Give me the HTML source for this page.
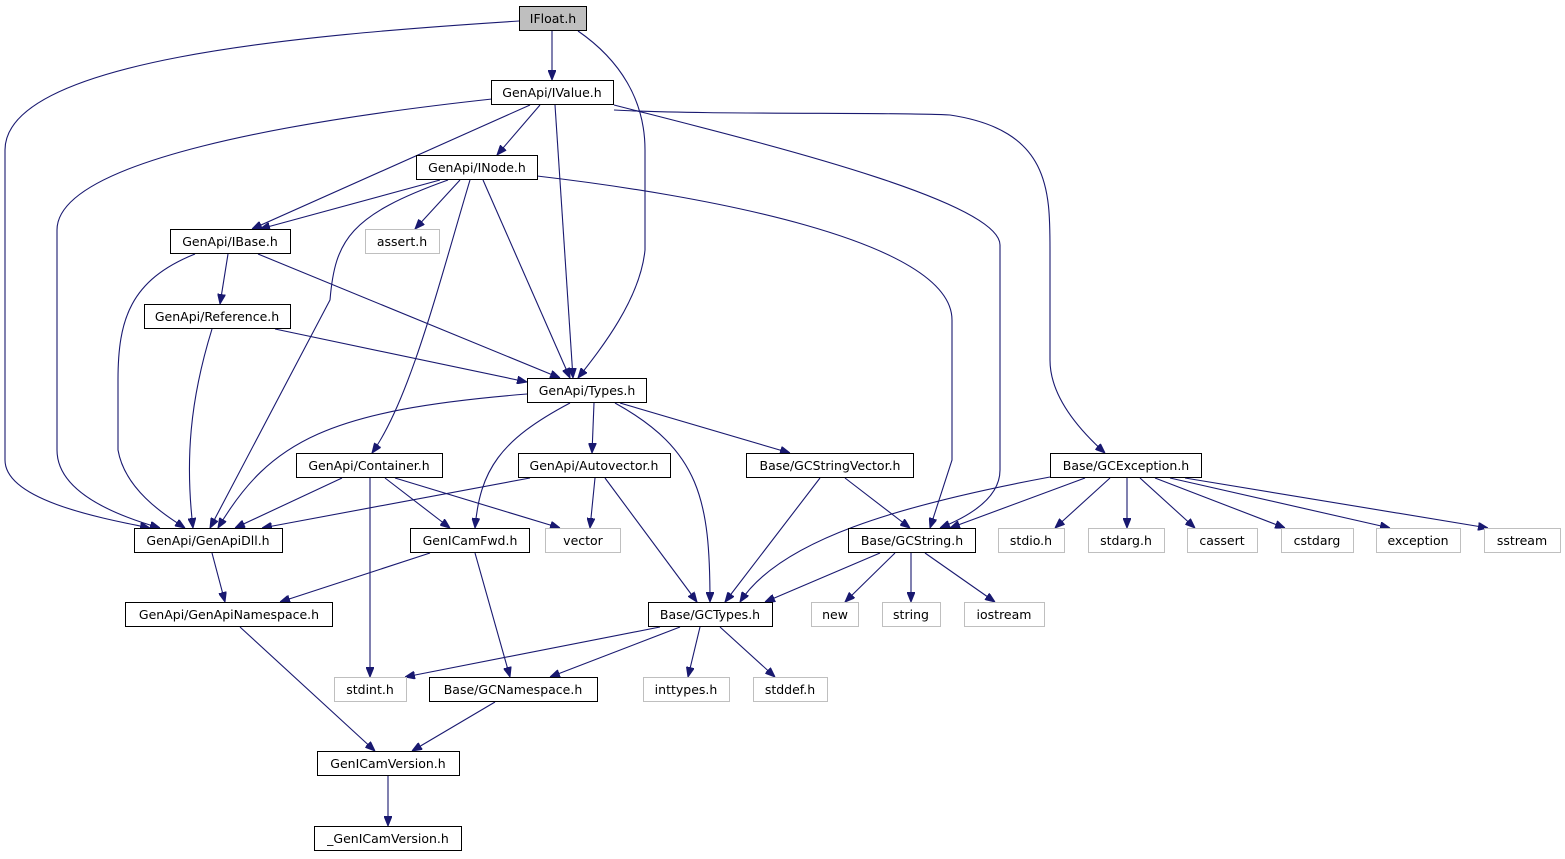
<!DOCTYPE html>
<html><head><meta charset="utf-8"><style>
html,body{margin:0;padding:0;background:#fff;}
svg{display:block;}
text{font-family:"DejaVu Sans","Liberation Sans",sans-serif;font-size:12.5px;fill:#000;}
.e{fill:none;stroke:#191970;stroke-width:1.1;marker-end:url(#a);}
.n{fill:#fff;stroke:#000;stroke-width:1;}
.g{fill:#fff;stroke:#bfbfbf;stroke-width:1;}
</style></head><body>
<svg width="1565" height="859" viewBox="0 0 1565 859" xmlns="http://www.w3.org/2000/svg">
<defs><marker id="a" markerWidth="10" markerHeight="8" refX="10" refY="4" orient="auto" markerUnits="userSpaceOnUse"><path d="M0,0 L10,4 L0,8 z" fill="#191970" stroke="#191970"/></marker></defs>
<g>
<path class="e" d="M552,31 L552,80"/>
<path class="e" d="M519,21 C300,35 5,60 5,150 L5,460 C5,500 100,518 150,528"/>
<path class="e" d="M578,31 C620,60 645,100 645,150 L645,250 C640,300 600,350 578,378"/>
<path class="e" d="M540,105 L497,155"/>
<path class="e" d="M530,105 L252,229"/>
<path class="e" d="M555,105 L573,378"/>
<path class="e" d="M492,99 C300,120 57,160 57,230 L57,450 C57,495 125,518 160,528"/>
<path class="e" d="M614,105 C750,140 1000,200 1000,245 L1000,470 C1000,500 965,518 940,528"/>
<path class="e" d="M614,110 C700,115 900,112 950,115 C1050,130 1050,190 1050,250 L1050,360 C1050,400 1085,435 1105,453"/>
<path class="e" d="M440,180 L260,229"/>
<path class="e" d="M460,180 L415,229"/>
<path class="e" d="M448,180 C350,215 335,240 330,300 L210,528"/>
<path class="e" d="M483,180 L570,378"/>
<path class="e" d="M470,180 C440,280 410,400 372,453"/>
<path class="e" d="M537,176 C700,195 952,240 952,320 L952,460 L930,528"/>
<path class="e" d="M228,254 L220,304"/>
<path class="e" d="M195,254 C130,280 118,320 118,380 L118,450 C125,490 165,515 185,528"/>
<path class="e" d="M258,254 L560,378"/>
<path class="e" d="M212,329 C190,400 185,460 193,528"/>
<path class="e" d="M275,329 L527,382"/>
<path class="e" d="M527,394 C330,410 270,440 218,528"/>
<path class="e" d="M594,403 L592,453"/>
<path class="e" d="M620,403 L790,453"/>
<path class="e" d="M570,403 C500,440 480,470 475,528"/>
<path class="e" d="M615,403 C700,450 710,500 710,602"/>
<path class="e" d="M342,478 L235,528"/>
<path class="e" d="M385,478 L450,528"/>
<path class="e" d="M395,478 L560,528"/>
<path class="e" d="M370,478 L370,677"/>
<path class="e" d="M530,478 L262,528"/>
<path class="e" d="M595,478 L590,528"/>
<path class="e" d="M605,478 L697,602"/>
<path class="e" d="M845,478 L910,528"/>
<path class="e" d="M820,478 L725,602"/>
<path class="e" d="M1050,477 C900,505 780,540 740,602"/>
<path class="e" d="M1085,478 L950,528"/>
<path class="e" d="M1110,478 L1055,528"/>
<path class="e" d="M1127,478 L1127,528"/>
<path class="e" d="M1140,478 L1195,528"/>
<path class="e" d="M1155,478 L1285,528"/>
<path class="e" d="M1170,478 L1390,528"/>
<path class="e" d="M1185,478 L1488,528"/>
<path class="e" d="M212,553 L225,602"/>
<path class="e" d="M430,553 L280,602"/>
<path class="e" d="M475,553 L510,677"/>
<path class="e" d="M880,553 L765,602"/>
<path class="e" d="M895,553 L845,602"/>
<path class="e" d="M911,553 L911,602"/>
<path class="e" d="M925,553 L995,602"/>
<path class="e" d="M660,627 L405,677"/>
<path class="e" d="M680,627 L550,677"/>
<path class="e" d="M700,627 L688,677"/>
<path class="e" d="M720,627 L775,677"/>
<path class="e" d="M240,627 L375,751"/>
<path class="e" d="M495,702 L412,751"/>
<path class="e" d="M388,776 L388,826"/>
</g>
<g text-anchor="middle">
<rect x="519.5" y="6.5" width="67" height="24" fill="#bfbfbf" stroke="#000"/><text x="553" y="23">IFloat.h</text>
<rect class="n" x="491.5" y="80.5" width="122" height="24"/><text x="552" y="97">GenApi/IValue.h</text>
<rect class="n" x="416.5" y="155.5" width="121" height="24"/><text x="477" y="172">GenApi/INode.h</text>
<rect class="n" x="170.5" y="229.5" width="120" height="24"/><text x="230" y="246">GenApi/IBase.h</text>
<rect class="g" x="365.5" y="229.5" width="74" height="24"/><text x="402" y="246">assert.h</text>
<rect class="n" x="144.5" y="304.5" width="146" height="24"/><text x="217" y="321">GenApi/Reference.h</text>
<rect class="n" x="527.5" y="378.5" width="119" height="24"/><text x="587" y="395">GenApi/Types.h</text>
<rect class="n" x="296.5" y="453.5" width="146" height="24"/><text x="369" y="470">GenApi/Container.h</text>
<rect class="n" x="518.5" y="453.5" width="152" height="24"/><text x="594" y="470">GenApi/Autovector.h</text>
<rect class="n" x="746.5" y="453.5" width="167" height="24"/><text x="830" y="470">Base/GCStringVector.h</text>
<rect class="n" x="1050.5" y="453.5" width="151" height="24"/><text x="1126" y="470">Base/GCException.h</text>
<rect class="n" x="134.5" y="528.5" width="148" height="24"/><text x="208" y="545">GenApi/GenApiDll.h</text>
<rect class="n" x="410.5" y="528.5" width="119" height="24"/><text x="470" y="545">GenICamFwd.h</text>
<rect class="g" x="545.5" y="528.5" width="75" height="24"/><text x="583" y="545">vector</text>
<rect class="n" x="848.5" y="528.5" width="127" height="24"/><text x="912" y="545">Base/GCString.h</text>
<rect class="g" x="998.5" y="528.5" width="66" height="24"/><text x="1031" y="545">stdio.h</text>
<rect class="g" x="1088.5" y="528.5" width="76" height="24"/><text x="1126" y="545">stdarg.h</text>
<rect class="g" x="1187.5" y="528.5" width="70" height="24"/><text x="1222" y="545">cassert</text>
<rect class="g" x="1281.5" y="528.5" width="72" height="24"/><text x="1317" y="545">cstdarg</text>
<rect class="g" x="1376.5" y="528.5" width="84" height="24"/><text x="1418" y="545">exception</text>
<rect class="g" x="1484.5" y="528.5" width="76" height="24"/><text x="1522" y="545">sstream</text>
<rect class="n" x="125.5" y="602.5" width="207" height="24"/><text x="229" y="619">GenApi/GenApiNamespace.h</text>
<rect class="n" x="648.5" y="602.5" width="124" height="24"/><text x="710" y="619">Base/GCTypes.h</text>
<rect class="g" x="811.5" y="602.5" width="47" height="24"/><text x="835" y="619">new</text>
<rect class="g" x="882.5" y="602.5" width="58" height="24"/><text x="911" y="619">string</text>
<rect class="g" x="964.5" y="602.5" width="80" height="24"/><text x="1004" y="619">iostream</text>
<rect class="g" x="334.5" y="677.5" width="72" height="24"/><text x="370" y="694">stdint.h</text>
<rect class="n" x="429.5" y="677.5" width="168" height="24"/><text x="513" y="694">Base/GCNamespace.h</text>
<rect class="g" x="643.5" y="677.5" width="86" height="24"/><text x="686" y="694">inttypes.h</text>
<rect class="g" x="753.5" y="677.5" width="74" height="24"/><text x="790" y="694">stddef.h</text>
<rect class="n" x="317.5" y="751.5" width="142" height="24"/><text x="388" y="768">GenICamVersion.h</text>
<rect class="n" x="314.5" y="826.5" width="147" height="24"/><text x="388" y="843">_GenICamVersion.h</text>
</g>
</svg>
</body></html>
